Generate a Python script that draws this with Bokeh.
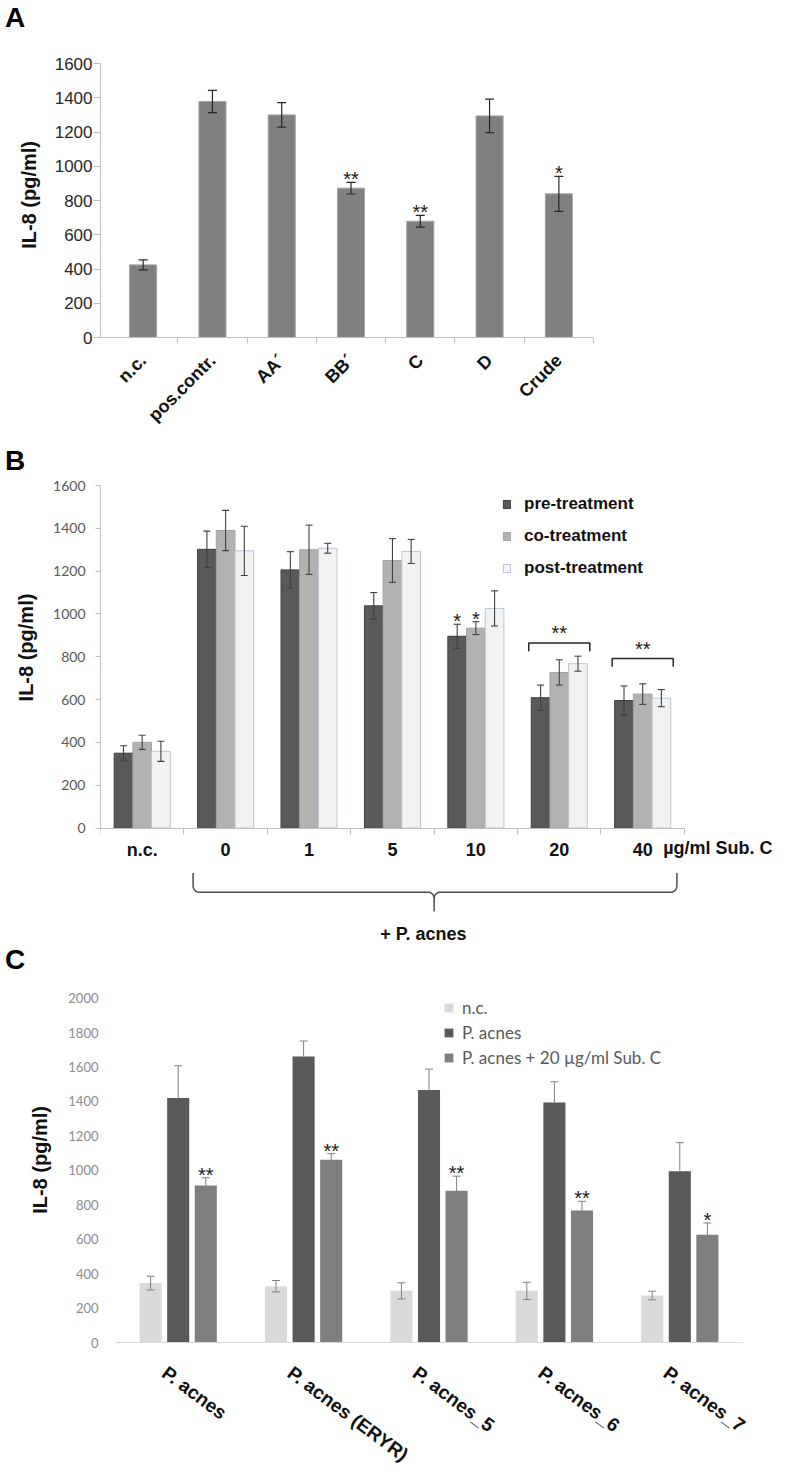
import numpy as np
from bokeh.plotting import figure
from bokeh.layouts import column
from bokeh.models import Range1d, FixedTicker, Div
from bokeh.core.properties import value
from bokeh.embed import file_html
from bokeh.resources import INLINE

# ---------------- Panel A data ----------------
cats_a = ["n.c.", "pos.contr.", "AA´", "BB´", "C", "D", "Crude"]
il8_a = [424, 1378, 1300, 872, 679, 1294, 839]
err_a = [29, 65, 72, 34, 34, 98, 102]
sig_a = ["", "", "", "**", "**", "", "*"]

# ---------------- Panel B data ----------------
conc_b = ["n.c.", "0", "1", "5", "10", "20", "40"]
series_b = ["pre-treatment", "co-treatment", "post-treatment"]
pre_b = [350, 1302, 1206, 1038, 896, 609, 596]
pre_err_b = [35, 85, 85, 62, 56, 59, 68]
co_b = [401, 1390, 1300, 1250, 934, 727, 626]
co_err_b = [33, 94, 115, 102, 30, 59, 48]
post_b = [359, 1295, 1307, 1292, 1026, 768, 607]
post_err_b = [47, 115, 23, 56, 82, 35, 40]
sig_pre_b = ["", "", "", "", "*", "", ""]
sig_co_b = ["", "", "", "", "*", "", ""]
bracket_groups_b = ["20", "40"]
bracket_level_b = [864, 792]
bracket_sig_b = ["**", "**"]
unit_label_b = "µg/ml  Sub. C"
brace_label_b = "+ P. acnes"

# ---------------- Panel C data ----------------
strains_c = ["P. acnes", "P. acnes (ERYR)", "P. acnes_5", "P. acnes_6", "P. acnes_7"]
series_c = ["n.c.", "P. acnes", "P. acnes + 20 µg/ml Sub. C"]
nc_c = [345, 327, 300, 300, 273]
nc_err_c = [40, 33, 47, 50, 25]
pac_c = [1420, 1661, 1467, 1394, 994]
pac_err_c = [187, 90, 121, 120, 167]
subc_c = [912, 1061, 882, 766, 626]
subc_err_c = [45, 36, 84, 54, 68]
sig_c = ["**", "**", "**", "**", "*"]

Y_LABEL = "IL-8 (pg/ml)"
ARIAL = "Liberation Sans"
CALIBRI = "Lato"
W = 792          # figure width (all panels share frame borders in a column)
LEFT, RIGHT = 100, 8
FRAME_W = W - LEFT - RIGHT
NBSP = "\u00a0"


def errbars(p, x, v, e, color, cap, lw=1.0, lower=True):
    v = np.asarray(v, float)
    e = np.asarray(e, float)
    lo = v - e if lower else v
    hi = v + e
    p.segment(x0=x, y0=lo, x1=x, y1=hi, line_color=color, line_width=lw)
    p.scatter(x=x, y=hi, marker="dash", size=cap, line_color=color, line_width=lw)
    if lower:
        p.scatter(x=x, y=lo, marker="dash", size=cap, line_color=color, line_width=lw)
    return hi


def stars(p, x, y, txt, size="20px", dy=-3):
    p.text(x=x, y=y, text=txt, text_align="center", text_baseline="middle",
           y_offset=dy, text_font=value(ARIAL), text_font_size=size, text_color="#1a1a1a")


def letter(txt, h, lh):
    return Div(text=txt, width=W, height=h, margin=0,
               styles={"font-family": "'Liberation Sans', Arial, sans-serif", "font-size": "28px",
                       "font-weight": "bold", "line-height": f"{lh}px", "padding-left": "5px",
                       "color": "black"})


def base_fig(**kw):
    p = figure(output_backend="svg", toolbar_location=None, width=W,
               min_border_left=LEFT, min_border_right=RIGHT, **kw)
    p.outline_line_color = None
    p.grid.visible = False
    return p


def x_window(n, axis_px, end_px):
    """x range so that category slots 0..n map to frame pixels axis_px..end_px"""
    ppu = (end_px - axis_px) / n
    return Range1d(-axis_px / ppu, (FRAME_W - axis_px) / ppu)


def style_ylabel(axis, pad, standoff):
    axis.axis_label = NBSP * pad + Y_LABEL
    axis.axis_label_text_font = ARIAL
    axis.axis_label_text_font_style = "bold"
    axis.axis_label_text_font_size = "20px"
    axis.axis_label_text_color = "#111111"
    axis.axis_label_standoff = standoff


# ======================= Panel A =======================
xr_a = x_window(len(cats_a), 8, 493)
pa = base_fig(height=413, x_range=xr_a, y_range=Range1d(0, 1600),
              min_border_top=27, min_border_bottom=112)
xa = np.arange(len(cats_a)) + 0.5
pa.vbar(x=xa, top=il8_a, width=0.39, fill_color="#808080", line_color="#a3a3a3", line_width=1)
hi_a = errbars(pa, xa, il8_a, err_a, "#262626", 9, 1.2)
stars(pa, xa, hi_a, sig_a)

ax = pa.xaxis[0]
ax.bounds = (xr_a.start, len(cats_a))
ax.ticker = FixedTicker(ticks=list(xa), minor_ticks=list(range(1, len(cats_a) + 1)))
ax.major_label_overrides = {float(x): c for x, c in zip(xa, cats_a)}
ax.axis_line_color = "#bfbfbf"
ax.major_tick_out = 0
ax.major_tick_in = 0
ax.minor_tick_out = 6
ax.minor_tick_in = 0
ax.minor_tick_line_color = "#bfbfbf"
ax.major_label_orientation = np.pi / 4
ax.major_label_text_font = ARIAL
ax.major_label_text_font_style = "bold"
ax.major_label_text_font_size = "18px"
ax.major_label_text_color = "#111111"
ax.major_label_standoff = 14

ay = pa.yaxis[0]
ay.ticker = FixedTicker(ticks=list(range(0, 1601, 200)))
ay.axis_line_color = "#bfbfbf"
ay.major_tick_line_color = "#bfbfbf"
ay.major_tick_out = 7
ay.major_tick_in = 0
ay.minor_tick_line_color = None
ay.major_label_text_font = ARIAL
ay.major_label_text_font_size = "17px"
ay.major_label_text_color = "#262626"
ay.major_label_standoff = 1
style_ylabel(ay, 2, 12)

# ======================= Panel B =======================
pb = base_fig(height=475, x_range=Range1d(0, 8.2), y_range=Range1d(-562, 1600),
              min_border_top=12, min_border_bottom=0)
xb = np.arange(len(conc_b)) + 0.5
wb = 0.224
specs_b = [
    (pre_b, pre_err_b, -wb, "#595959", "#3f3f3f", series_b[0]),
    (co_b, co_err_b, 0.0, "#b2b2b2", "#a3a3a3", series_b[1]),
    (post_b, post_err_b, wb, "#f2f2f2", "#b9c4d4", series_b[2]),
]
his_b = []
for vals, errs, off, fc, lc, name in specs_b:
    pb.vbar(x=xb + off, top=vals, width=wb, fill_color=fc, line_color=lc, line_width=1,
            legend_label=name)
    his_b.append(errbars(pb, xb + off, vals, errs, "#404040", 7, 1.1))
stars(pb, xb - wb, his_b[0], sig_pre_b)
stars(pb, xb, his_b[1], sig_co_b)

for g, lvl, s in zip(bracket_groups_b, bracket_level_b, bracket_sig_b):
    gx = xb[conc_b.index(g)]
    x0, x1 = gx - 1.5 * wb - 0.03, gx + 1.5 * wb + 0.03
    pb.line(x=[x0, x0, x1, x1], y=[lvl - 38, lvl, lvl, lvl - 38], line_color="#262626", line_width=1.5)
    stars(pb, [gx], [lvl], [s], dy=-10)

# curly brace spanning the P. acnes-treated groups
i0, i1 = conc_b.index("0"), conc_b.index("40")
bx0, bx1 = i0 + 0.11, i1 + 1 - 0.09
bxm = conc_b.index("5") + 1.0
y_top, y_mid, y_tip = -210, -299, -389
rx, ry = 0.07, 30
xs, ys = [bx0], [y_top]
a = np.linspace(np.pi, 1.5 * np.pi, 8)
xs += list(bx0 + rx + rx * np.cos(a)); ys += list(y_mid + ry + ry * np.sin(a))
a = np.linspace(0.5 * np.pi, 0, 8)
xs += list(bxm - rx + rx * np.cos(a)); ys += list(y_mid - ry + ry * np.sin(a))
xs += [bxm]; ys += [y_tip]
a = np.linspace(np.pi, 0.5 * np.pi, 8)
xs += list(bxm + rx + rx * np.cos(a)); ys += list(y_mid - ry + ry * np.sin(a))
a = np.linspace(1.5 * np.pi, 2 * np.pi, 8)
xs += list(bx1 - rx + rx * np.cos(a)); ys += list(y_mid + ry + ry * np.sin(a))
xs += [bx1]; ys += [y_top]
pb.line(x=xs, y=ys, line_color="#4d4d4d", line_width=1.5)
pb.text(x=[bxm - 0.13], y=[-492], text=[brace_label_b], text_align="center", text_baseline="middle",
        text_font=value(ARIAL), text_font_style="bold", text_font_size="18px", text_color="#111111")
pb.text(x=[xb[-1] + 0.245], y=[-95], text=[unit_label_b], text_align="left", text_baseline="middle",
        text_font=value(ARIAL), text_font_style="bold", text_font_size="18px", text_color="#111111")

bx = pb.xaxis[0]
bx.fixed_location = 0
bx.bounds = (0, len(conc_b))
bx.ticker = FixedTicker(ticks=list(xb), minor_ticks=list(range(len(conc_b) + 1)))
bx.major_label_overrides = {float(x): c for x, c in zip(xb, conc_b)}
bx.axis_line_color = "#bfbfbf"
bx.major_tick_out = 0
bx.major_tick_in = 0
bx.minor_tick_out = 6
bx.minor_tick_in = 0
bx.minor_tick_line_color = "#bfbfbf"
bx.major_label_text_font = ARIAL
bx.major_label_text_font_style = "bold"
bx.major_label_text_font_size = "18px"
bx.major_label_text_color = "#111111"
bx.major_label_standoff = 6

by = pb.yaxis[0]
by.bounds = (0, 1600)
by.ticker = FixedTicker(ticks=list(range(0, 1601, 200)))
by.axis_line_color = "#bfbfbf"
by.major_tick_line_color = "#bfbfbf"
by.major_tick_out = 5
by.major_tick_in = 0
by.minor_tick_line_color = None
by.major_label_text_font = CALIBRI
by.major_label_text_font_size = "14px"
by.major_label_text_color = "#595959"
by.major_label_standoff = 10
style_ylabel(by, 25, 13)   # padded so the label centres on the 0-1600 part of the axis

lb = pb.legend[0]
lb.location = (402, 369)
lb.padding = 0
lb.margin = 0
lb.border_line_color = None
lb.background_fill_alpha = 0
lb.glyph_width = 9
lb.glyph_height = 10
lb.label_standoff = 13
lb.label_height = 22
lb.spacing = 10
lb.label_text_font = ARIAL
lb.label_text_font_style = "bold"
lb.label_text_font_size = "17px"
lb.label_text_color = "#111111"

# ======================= Panel C =======================
pc = base_fig(height=504, x_range=x_window(len(strains_c), 15, 642), y_range=Range1d(0, 2056),
              min_border_top=16, min_border_bottom=121)
xc = np.arange(len(strains_c)) + 0.5
wc, dc = 0.176, 0.22
pc.vbar(x=xc - dc, top=nc_c, width=wc, fill_color="#d9d9d9", line_color=None, legend_label=series_c[0])
pc.vbar(x=xc, top=pac_c, width=wc, fill_color="#595959", line_color=None, legend_label=series_c[1])
pc.vbar(x=xc + dc, top=subc_c, width=wc, fill_color="#7f7f7f", line_color=None, legend_label=series_c[2])
errbars(pc, xc - dc, nc_c, nc_err_c, "#808080", 8, 1.0)
errbars(pc, xc, pac_c, pac_err_c, "#808080", 8, 1.0, lower=False)
hi_c = errbars(pc, xc + dc, subc_c, subc_err_c, "#808080", 8, 1.0)
stars(pc, xc + dc, hi_c, sig_c)

label_shift_c = -0.11
cx = pc.xaxis[0]
cx.bounds = (0, len(strains_c))
cx.ticker = FixedTicker(ticks=list(xc + label_shift_c))
cx.major_label_overrides = {float(x): c for x, c in zip(xc + label_shift_c, strains_c)}
cx.axis_line_color = "#d9d9d9"
cx.major_tick_out = 0
cx.major_tick_in = 0
cx.minor_tick_line_color = None
cx.major_label_orientation = -0.64
cx.major_label_text_font = ARIAL
cx.major_label_text_font_style = "bold"
cx.major_label_text_font_size = "19px"
cx.major_label_text_color = "#111111"
cx.major_label_standoff = 28

cy = pc.yaxis[0]
cy.ticker = FixedTicker(ticks=list(range(0, 2001, 200)))
cy.axis_line_color = None
cy.major_tick_line_color = None
cy.minor_tick_line_color = None
cy.major_tick_out = 0
cy.major_label_text_font = CALIBRI
cy.major_label_text_font_size = "13px"
cy.major_label_text_color = "#8c8c8c"
cy.major_label_standoff = 2
style_ylabel(cy, 2, 14)

lc = pc.legend[0]
lc.location = (343, 274)
lc.padding = 0
lc.margin = 0
lc.border_line_color = None
lc.background_fill_alpha = 0
lc.glyph_width = 11
lc.glyph_height = 11
lc.label_standoff = 8
lc.label_height = 20
lc.spacing = 4
lc.label_text_font = CALIBRI
lc.label_text_font_size = "17px"
lc.label_text_color = "#595959"

layout = column(letter("A", 36, 36), pa, letter("B", 24, 24), pb, letter("C", 24, 24), pc)
open("out.html", "w").write(file_html(layout, INLINE))
